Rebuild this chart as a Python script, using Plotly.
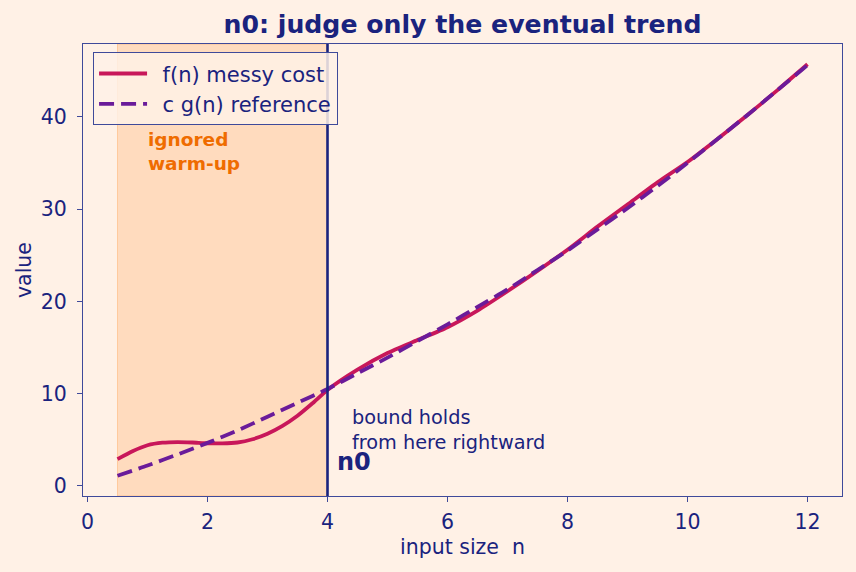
import plotly.graph_objects as go

n_vals = [0.5, 0.75, 1.0, 1.25, 1.5, 1.75, 2.0, 2.25, 2.5, 2.75, 3.0, 3.25, 3.5, 3.75, 4.0,
          4.5, 5.0, 5.5, 6.0, 6.5, 7.0, 7.5, 8.0, 8.5, 9.0, 9.5, 10.0, 10.5, 11.0, 11.5, 12.0]
f_vals = [2.9, 3.75, 4.4, 4.68, 4.75, 4.7, 4.62, 4.6, 4.7, 5.05, 5.65, 6.5, 7.6, 8.95, 10.4,
          12.6, 14.4, 15.8, 17.2, 19.0, 21.1, 23.3, 25.6, 28.1, 30.5, 32.9, 35.1, 37.6, 40.2, 42.9, 45.7]
g_x = [0.5, 1.0, 1.5, 2.0, 2.5, 3.0, 3.5, 4.0, 4.5, 5.0, 5.5, 6.0, 6.5, 7.0, 7.5, 8.0,
       8.5, 9.0, 9.5, 10.0, 10.5, 11.0, 11.5, 12.0]
g_vals = [1.1, 2.2, 3.4, 4.66, 6.0, 7.5, 9.0, 10.5, 12.2, 13.9, 15.7, 17.5, 19.4, 21.3, 23.4, 25.5,
          27.8, 30.1, 32.5, 35.0, 37.6, 40.2, 42.9, 45.6]
n0 = 4.0
warm_start = 0.5

navy = "#1a237e"
frame = "#3f4a9a"
bg = "#fff1e6"
font = "DejaVu Sans"

fig = go.Figure()
fig.add_vrect(x0=warm_start, x1=n0, fillcolor="rgba(255,170,100,0.3)",
              line=dict(color="rgba(255,150,60,0.35)", width=1), layer="below")
fig.add_trace(go.Scatter(x=n_vals, y=f_vals, mode="lines", name="\u2002f(n) messy cost",
                         line=dict(color="#c8175a", width=3.8, shape="spline", smoothing=0.6)))
fig.add_trace(go.Scatter(x=g_x, y=g_vals, mode="lines", name="\u2002c g(n) reference",
                         line=dict(color="#6a1b9a", width=3.8, dash="15px,7px",
                                   shape="spline", smoothing=0.6)))
fig.add_vline(x=n0, line=dict(color=navy, width=2.6))

fig.add_annotation(x=0.97, y=36.2, text="<b>ignored<br>warm-up</b>", showarrow=False,
                   xanchor="left", yanchor="middle", align="left",
                   font=dict(family=font, size=18.5, color="#ef6c00"))
fig.add_annotation(x=4.38, y=6.05, text="bound holds<br>from here rightward", showarrow=False,
                   xanchor="left", yanchor="middle", align="left",
                   font=dict(family=font, size=19.3, color=navy))
fig.add_annotation(x=4.13, y=2.55, text="<b>n0</b>", showarrow=False,
                   xanchor="left", yanchor="middle", align="left",
                   font=dict(family=font, size=24, color=navy))

axis_common = dict(showgrid=False, zeroline=False, showline=True, mirror=True,
                   linecolor=frame, linewidth=1.2, ticks="outside", ticklen=5,
                   tickcolor=frame, tickfont=dict(family=font, size=20.5, color=navy),
                   title_font=dict(family=font, size=20.5, color=navy))

fig.update_layout(
    width=856, height=572,
    paper_bgcolor=bg, plot_bgcolor=bg,
    margin=dict(l=83, r=14, t=44, b=76),
    title=dict(text="<b>n0: judge only the eventual trend</b>", x=0.5, xref="paper",
               xanchor="center", y=1 - 24 / 572, yref="container", yanchor="middle",
               font=dict(family=font, size=25.2, color=navy)),
    xaxis=dict(range=[-0.075, 12.575], tickvals=[0, 2, 4, 6, 8, 10, 12],
               ticklabelstandoff=2,
               title=dict(text="input size  n", standoff=6), **axis_common),
    yaxis=dict(range=[-1.1, 47.9], tickvals=[0, 10, 20, 30, 40],
               ticklabelstandoff=6,
               title=dict(text="value", standoff=3), **axis_common),
    legend=dict(x=0.013, y=0.982, xanchor="left", yanchor="top",
                bgcolor="rgba(255,241,230,0.85)", bordercolor=frame, borderwidth=1.2,
                font=dict(family=font, size=21, color=navy), tracegroupgap=0,
                itemwidth=48),
    showlegend=True,
)

fig.write_html("out.html")
